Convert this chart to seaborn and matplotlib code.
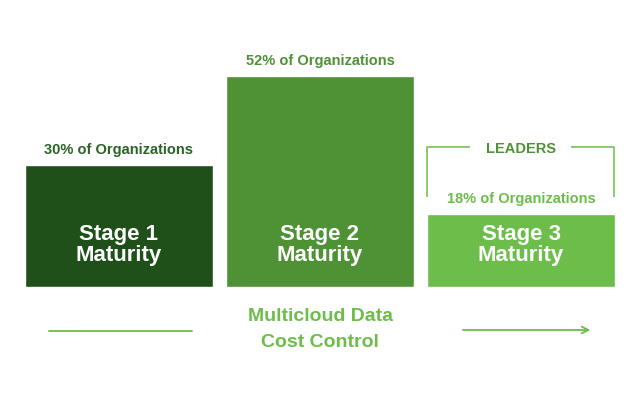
import matplotlib
matplotlib.use("Agg")
import matplotlib.pyplot as plt
import seaborn as sns
import pandas as pd

stages = ["Stage 1", "Stage 2", "Stage 3"]
percents = [30, 52, 18]
pct_labels = ["30% of Organizations", "52% of Organizations", "18% of Organizations"]
bar_colors = ["#1f5019", "#4f9135", "#6cbd4a"]
label_colors = ["#2a6325", "#4f9135", "#6cbd4a"]
bottom_title = "Multicloud Data\nCost Control"
leaders_label = "LEADERS"

sns.set_theme(style="white")
plt.rcParams["font.family"] = ["Liberation Sans", "DejaVu Sans"]

df = pd.DataFrame({"stage": stages, "pct": percents})

fig = plt.figure(figsize=(6.4, 4.0), dpi=100)
ax = fig.add_axes([0, 0, 1, 1])
sns.barplot(data=df, x="stage", y="pct", hue="stage", palette=bar_colors,
            width=0.935, legend=False, saturation=1, ax=ax)

k = 4.06  # px per unit
ax.set_xlim(-0.592, 2.592)
ax.set_ylim(-113 / k, 287 / k)
ax.axis("off")


def py(pix):
    """pixel row from top -> data y"""
    return (400 - pix - 113) / k


for i, (st, p, lab, lc) in enumerate(zip(stages, percents, pct_labels, label_colors)):
    ax.text(i, p + 11 / k, lab, ha="center", va="baseline", fontsize=10.5,
            fontweight="bold", color=lc)
    ax.text(i, py(240), st, ha="center", va="baseline", fontsize=16,
            fontweight="bold", color="white")
    ax.text(i, py(261), "Maturity", ha="center", va="baseline", fontsize=16,
            fontweight="bold", color="white")

# Leaders bracket around stage 3
lc = "#6cbd4a"
ytop, ybot = py(146.7), py(196.7)
xl, xr = 1.532, 2.463
ax.plot([xl, xl, 1.746], [ybot, ytop, ytop], color=lc, lw=1.1, solid_capstyle="butt")
ax.plot([2.249, xr, xr], [ytop, ytop, ybot], color=lc, lw=1.1, solid_capstyle="butt")
ax.text(2.0, py(152.7), leaders_label, ha="center", va="baseline", fontsize=10.5,
        fontweight="bold", color="#4f9135")

# bottom title and arrow
for j, line in enumerate(bottom_title.split("\n")):
    ax.text(1.0, py(321 + 26 * j), line, ha="center", va="baseline", fontsize=14,
            fontweight="bold", color="#6cbd4a")
ax.plot([-0.348, 0.363], [py(331), py(331)], color=lc, lw=1.3)
ax.annotate("", xy=(2.345, py(330)), xytext=(1.711, py(330)),
            arrowprops=dict(arrowstyle="->", color=lc, lw=1.3,
                            mutation_scale=12, shrinkA=0, shrinkB=0))

fig.savefig("out.png", dpi=100)
